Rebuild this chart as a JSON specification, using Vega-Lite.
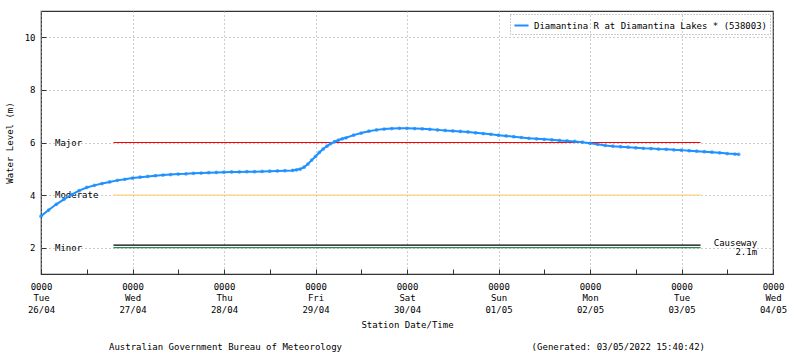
{
  "$schema": "https://vega.github.io/schema/vega-lite/v6.json",
  "width": 732,
  "height": 263,
  "autosize": {"type": "none"},
  "padding": {"left": 41, "top": 11, "right": 27, "bottom": 84},
  "background": "white",
  "title": {
    "text": "Australian Government Bureau of Meteorology\u00a0\u00a0\u00a0\u00a0\u00a0\u00a0\u00a0\u00a0\u00a0\u00a0\u00a0\u00a0\u00a0\u00a0\u00a0\u00a0\u00a0\u00a0\u00a0\u00a0\u00a0\u00a0\u00a0\u00a0\u00a0\u00a0\u00a0\u00a0\u00a0\u00a0\u00a0\u00a0\u00a0\u00a0\u00a0(Generated: 03/05/2022 15:40:42)",
    "orient": "bottom",
    "anchor": "middle",
    "font": "DejaVu Sans Mono",
    "fontSize": 9,
    "fontWeight": "normal",
    "color": "black",
    "offset": 14
  },
  "config": {
    "font": "DejaVu Sans Mono",
    "view": {"stroke": "#333", "strokeWidth": 1.2},
    "axis": {
      "domain": false,
      "labelFont": "DejaVu Sans Mono",
      "labelFontSize": 9,
      "labelColor": "black",
      "titleFont": "DejaVu Sans Mono",
      "titleFontSize": 9,
      "titleFontWeight": "normal",
      "titleColor": "black",
      "tickColor": "#333",
      "tickSize": -5,
      "gridColor": "#999",
      "gridDash": [1, 3]
    },
    "axisX": {"labelPadding": 13, "labelLineHeight": 11.5, "titlePadding": 6},
    "axisY": {"labelPadding": 11, "titlePadding": 10},
    "legend": {"labelFont": "DejaVu Sans Mono", "labelFontSize": 9, "labelColor": "black"}
  },
  "datasets": {
    "water": [
      {"t": "2022-04-26T00:00", "level": 3.20},
      {"t": "2022-04-26T02:00", "level": 3.43},
      {"t": "2022-04-26T04:00", "level": 3.65},
      {"t": "2022-04-26T06:00", "level": 3.84},
      {"t": "2022-04-26T08:00", "level": 4.02},
      {"t": "2022-04-26T10:00", "level": 4.17},
      {"t": "2022-04-26T12:00", "level": 4.29},
      {"t": "2022-04-26T14:00", "level": 4.37},
      {"t": "2022-04-26T16:00", "level": 4.44},
      {"t": "2022-04-26T18:00", "level": 4.50},
      {"t": "2022-04-26T20:00", "level": 4.56},
      {"t": "2022-04-26T22:00", "level": 4.60},
      {"t": "2022-04-27T00:00", "level": 4.65},
      {"t": "2022-04-27T02:00", "level": 4.68},
      {"t": "2022-04-27T04:00", "level": 4.71},
      {"t": "2022-04-27T06:00", "level": 4.74},
      {"t": "2022-04-27T08:00", "level": 4.76},
      {"t": "2022-04-27T10:00", "level": 4.78},
      {"t": "2022-04-27T12:00", "level": 4.80},
      {"t": "2022-04-27T14:00", "level": 4.81},
      {"t": "2022-04-27T16:00", "level": 4.83},
      {"t": "2022-04-27T18:00", "level": 4.84},
      {"t": "2022-04-27T20:00", "level": 4.85},
      {"t": "2022-04-27T22:00", "level": 4.86},
      {"t": "2022-04-28T00:00", "level": 4.87},
      {"t": "2022-04-28T02:00", "level": 4.88},
      {"t": "2022-04-28T04:00", "level": 4.88},
      {"t": "2022-04-28T06:00", "level": 4.89},
      {"t": "2022-04-28T08:00", "level": 4.89},
      {"t": "2022-04-28T10:00", "level": 4.90},
      {"t": "2022-04-28T12:00", "level": 4.91},
      {"t": "2022-04-28T14:00", "level": 4.92},
      {"t": "2022-04-28T16:00", "level": 4.93},
      {"t": "2022-04-28T18:00", "level": 4.94},
      {"t": "2022-04-28T19:00", "level": 4.96},
      {"t": "2022-04-28T20:00", "level": 4.99},
      {"t": "2022-04-28T21:00", "level": 5.06},
      {"t": "2022-04-28T22:00", "level": 5.18},
      {"t": "2022-04-28T23:00", "level": 5.33},
      {"t": "2022-04-29T00:00", "level": 5.47},
      {"t": "2022-04-29T01:00", "level": 5.62},
      {"t": "2022-04-29T02:00", "level": 5.75},
      {"t": "2022-04-29T03:00", "level": 5.86},
      {"t": "2022-04-29T04:00", "level": 5.96},
      {"t": "2022-04-29T05:00", "level": 6.03},
      {"t": "2022-04-29T06:00", "level": 6.09},
      {"t": "2022-04-29T07:00", "level": 6.14},
      {"t": "2022-04-29T08:00", "level": 6.18},
      {"t": "2022-04-29T10:00", "level": 6.28},
      {"t": "2022-04-29T12:00", "level": 6.36},
      {"t": "2022-04-29T14:00", "level": 6.43},
      {"t": "2022-04-29T16:00", "level": 6.48},
      {"t": "2022-04-29T18:00", "level": 6.51},
      {"t": "2022-04-29T20:00", "level": 6.53},
      {"t": "2022-04-29T22:00", "level": 6.54},
      {"t": "2022-04-30T00:00", "level": 6.54},
      {"t": "2022-04-30T02:00", "level": 6.53},
      {"t": "2022-04-30T04:00", "level": 6.52},
      {"t": "2022-04-30T06:00", "level": 6.50},
      {"t": "2022-04-30T08:00", "level": 6.48},
      {"t": "2022-04-30T10:00", "level": 6.46},
      {"t": "2022-04-30T12:00", "level": 6.44},
      {"t": "2022-04-30T14:00", "level": 6.42},
      {"t": "2022-04-30T16:00", "level": 6.40},
      {"t": "2022-04-30T18:00", "level": 6.37},
      {"t": "2022-04-30T20:00", "level": 6.34},
      {"t": "2022-04-30T22:00", "level": 6.31},
      {"t": "2022-05-01T00:00", "level": 6.28},
      {"t": "2022-05-01T02:00", "level": 6.25},
      {"t": "2022-05-01T04:00", "level": 6.22},
      {"t": "2022-05-01T06:00", "level": 6.19},
      {"t": "2022-05-01T08:00", "level": 6.16},
      {"t": "2022-05-01T10:00", "level": 6.14},
      {"t": "2022-05-01T12:00", "level": 6.12},
      {"t": "2022-05-01T14:00", "level": 6.10},
      {"t": "2022-05-01T16:00", "level": 6.08},
      {"t": "2022-05-01T18:00", "level": 6.06},
      {"t": "2022-05-01T20:00", "level": 6.04},
      {"t": "2022-05-01T22:00", "level": 6.01},
      {"t": "2022-05-02T00:00", "level": 5.97},
      {"t": "2022-05-02T02:00", "level": 5.93},
      {"t": "2022-05-02T04:00", "level": 5.89},
      {"t": "2022-05-02T06:00", "level": 5.86},
      {"t": "2022-05-02T08:00", "level": 5.84},
      {"t": "2022-05-02T10:00", "level": 5.82},
      {"t": "2022-05-02T12:00", "level": 5.80},
      {"t": "2022-05-02T14:00", "level": 5.78},
      {"t": "2022-05-02T16:00", "level": 5.77},
      {"t": "2022-05-02T18:00", "level": 5.75},
      {"t": "2022-05-02T20:00", "level": 5.74},
      {"t": "2022-05-02T22:00", "level": 5.72},
      {"t": "2022-05-03T00:00", "level": 5.71},
      {"t": "2022-05-03T02:00", "level": 5.69},
      {"t": "2022-05-03T04:00", "level": 5.67},
      {"t": "2022-05-03T06:00", "level": 5.65},
      {"t": "2022-05-03T08:00", "level": 5.63},
      {"t": "2022-05-03T10:00", "level": 5.61},
      {"t": "2022-05-03T12:00", "level": 5.58},
      {"t": "2022-05-03T14:00", "level": 5.56},
      {"t": "2022-05-03T15:00", "level": 5.55}
    ],
    "thresholds": [
      {"name": "Major", "level": 6, "start": "2022-04-26T19:00", "end": "2022-05-03T05:00"},
      {"name": "Moderate", "level": 4, "start": "2022-04-26T19:00", "end": "2022-05-03T05:00"},
      {"name": "Minor", "level": 2, "start": "2022-04-26T19:00", "end": "2022-05-03T05:00"},
      {"name": "Causeway", "level": 2.1, "start": "2022-04-26T19:00", "end": "2022-05-03T05:00"}
    ],
    "leftLabels": [
      {"label": "Major", "t": "2022-04-26T03:40", "level": 6},
      {"label": "Moderate", "t": "2022-04-26T03:40", "level": 4},
      {"label": "Minor", "t": "2022-04-26T03:40", "level": 2}
    ],
    "rightLabels": [
      {"label": "Causeway", "t": "2022-05-03T19:50", "level": 2.18},
      {"label": "2.1m", "t": "2022-05-03T19:50", "level": 1.83}
    ]
  },
  "layer": [
    {
      "data": {"name": "thresholds"},
      "mark": {"type": "rule", "strokeWidth": 1.2},
      "encoding": {
        "x": {"field": "start", "type": "temporal", "title": "Station Date/Time",
              "scale": {"domain": [{"year": 2022, "month": 4, "date": 26, "hours": 0}, {"year": 2022, "month": 5, "date": 4, "hours": 0}]},
              "axis": {
                "values": [
                  {"year": 2022, "month": 4, "date": 26, "hours": 0}, {"year": 2022, "month": 4, "date": 26, "hours": 6}, {"year": 2022, "month": 4, "date": 26, "hours": 12}, {"year": 2022, "month": 4, "date": 26, "hours": 18},
                  {"year": 2022, "month": 4, "date": 27, "hours": 0}, {"year": 2022, "month": 4, "date": 27, "hours": 6}, {"year": 2022, "month": 4, "date": 27, "hours": 12}, {"year": 2022, "month": 4, "date": 27, "hours": 18},
                  {"year": 2022, "month": 4, "date": 28, "hours": 0}, {"year": 2022, "month": 4, "date": 28, "hours": 6}, {"year": 2022, "month": 4, "date": 28, "hours": 12}, {"year": 2022, "month": 4, "date": 28, "hours": 18},
                  {"year": 2022, "month": 4, "date": 29, "hours": 0}, {"year": 2022, "month": 4, "date": 29, "hours": 6}, {"year": 2022, "month": 4, "date": 29, "hours": 12}, {"year": 2022, "month": 4, "date": 29, "hours": 18},
                  {"year": 2022, "month": 4, "date": 30, "hours": 0}, {"year": 2022, "month": 4, "date": 30, "hours": 6}, {"year": 2022, "month": 4, "date": 30, "hours": 12}, {"year": 2022, "month": 4, "date": 30, "hours": 18},
                  {"year": 2022, "month": 5, "date": 1, "hours": 0}, {"year": 2022, "month": 5, "date": 1, "hours": 6}, {"year": 2022, "month": 5, "date": 1, "hours": 12}, {"year": 2022, "month": 5, "date": 1, "hours": 18},
                  {"year": 2022, "month": 5, "date": 2, "hours": 0}, {"year": 2022, "month": 5, "date": 2, "hours": 6}, {"year": 2022, "month": 5, "date": 2, "hours": 12}, {"year": 2022, "month": 5, "date": 2, "hours": 18},
                  {"year": 2022, "month": 5, "date": 3, "hours": 0}, {"year": 2022, "month": 5, "date": 3, "hours": 6}, {"year": 2022, "month": 5, "date": 3, "hours": 12}, {"year": 2022, "month": 5, "date": 3, "hours": 18},
                  {"year": 2022, "month": 5, "date": 4, "hours": 0}
                ],
                "labelExpr": "hours(datum.value) == 0 ? [timeFormat(datum.value, '%H%M'), timeFormat(datum.value, '%a'), timeFormat(datum.value, '%d/%m')] : ''",
                "labelOverlap": false,
                "labelFlush": false,
                "gridOpacity": {"condition": {"test": "hours(datum.value) == 0", "value": 1}, "value": 0}
              }},
        "x2": {"field": "end"},
        "y": {"field": "level", "type": "quantitative", "title": "Water Level (m)",
              "scale": {"domain": [1, 11], "nice": false, "zero": false},
              "axis": {"values": [2, 4, 6, 8, 10]}},
        "color": {"field": "name", "type": "nominal",
                  "scale": {"domain": ["Major", "Moderate", "Minor", "Causeway"], "range": ["#ff0000", "#ffd27a", "#2e8b57", "#000000"]},
                  "legend": null}
      }
    },
    {
      "data": {"name": "leftLabels"},
      "mark": {"type": "text", "align": "left", "baseline": "middle", "fontSize": 9, "font": "DejaVu Sans Mono", "color": "black"},
      "encoding": {
        "x": {"field": "t", "type": "temporal"},
        "y": {"field": "level", "type": "quantitative"},
        "text": {"field": "label"}
      }
    },
    {
      "data": {"name": "rightLabels"},
      "mark": {"type": "text", "align": "right", "baseline": "middle", "fontSize": 9, "font": "DejaVu Sans Mono", "color": "black"},
      "encoding": {
        "x": {"field": "t", "type": "temporal"},
        "y": {"field": "level", "type": "quantitative"},
        "text": {"field": "label"}
      }
    },
    {
      "data": {"name": "water"},
      "mark": {"type": "line", "strokeWidth": 2, "point": {"filled": true, "size": 14, "opacity": 0.75}},
      "encoding": {
        "x": {"field": "t", "type": "temporal"},
        "y": {"field": "level", "type": "quantitative"},
        "color": {"datum": "Diamantina R at Diamantina Lakes * (538003)", "type": "nominal",
                  "scale": {"range": ["#1e90ff"]},
                  "legend": {"title": null, "orient": "top-right", "offset": 3, "padding": 3,
                             "strokeColor": "#999", "symbolType": "stroke", "symbolSize": 200, "symbolStrokeWidth": 2,
                             "labelLimit": 400,
                             "encode": {"legend": {"update": {"strokeDash": {"value": [1, 2]}}}}}}
      }
    }
  ],
  "resolve": {"scale": {"color": "independent"}}
}
